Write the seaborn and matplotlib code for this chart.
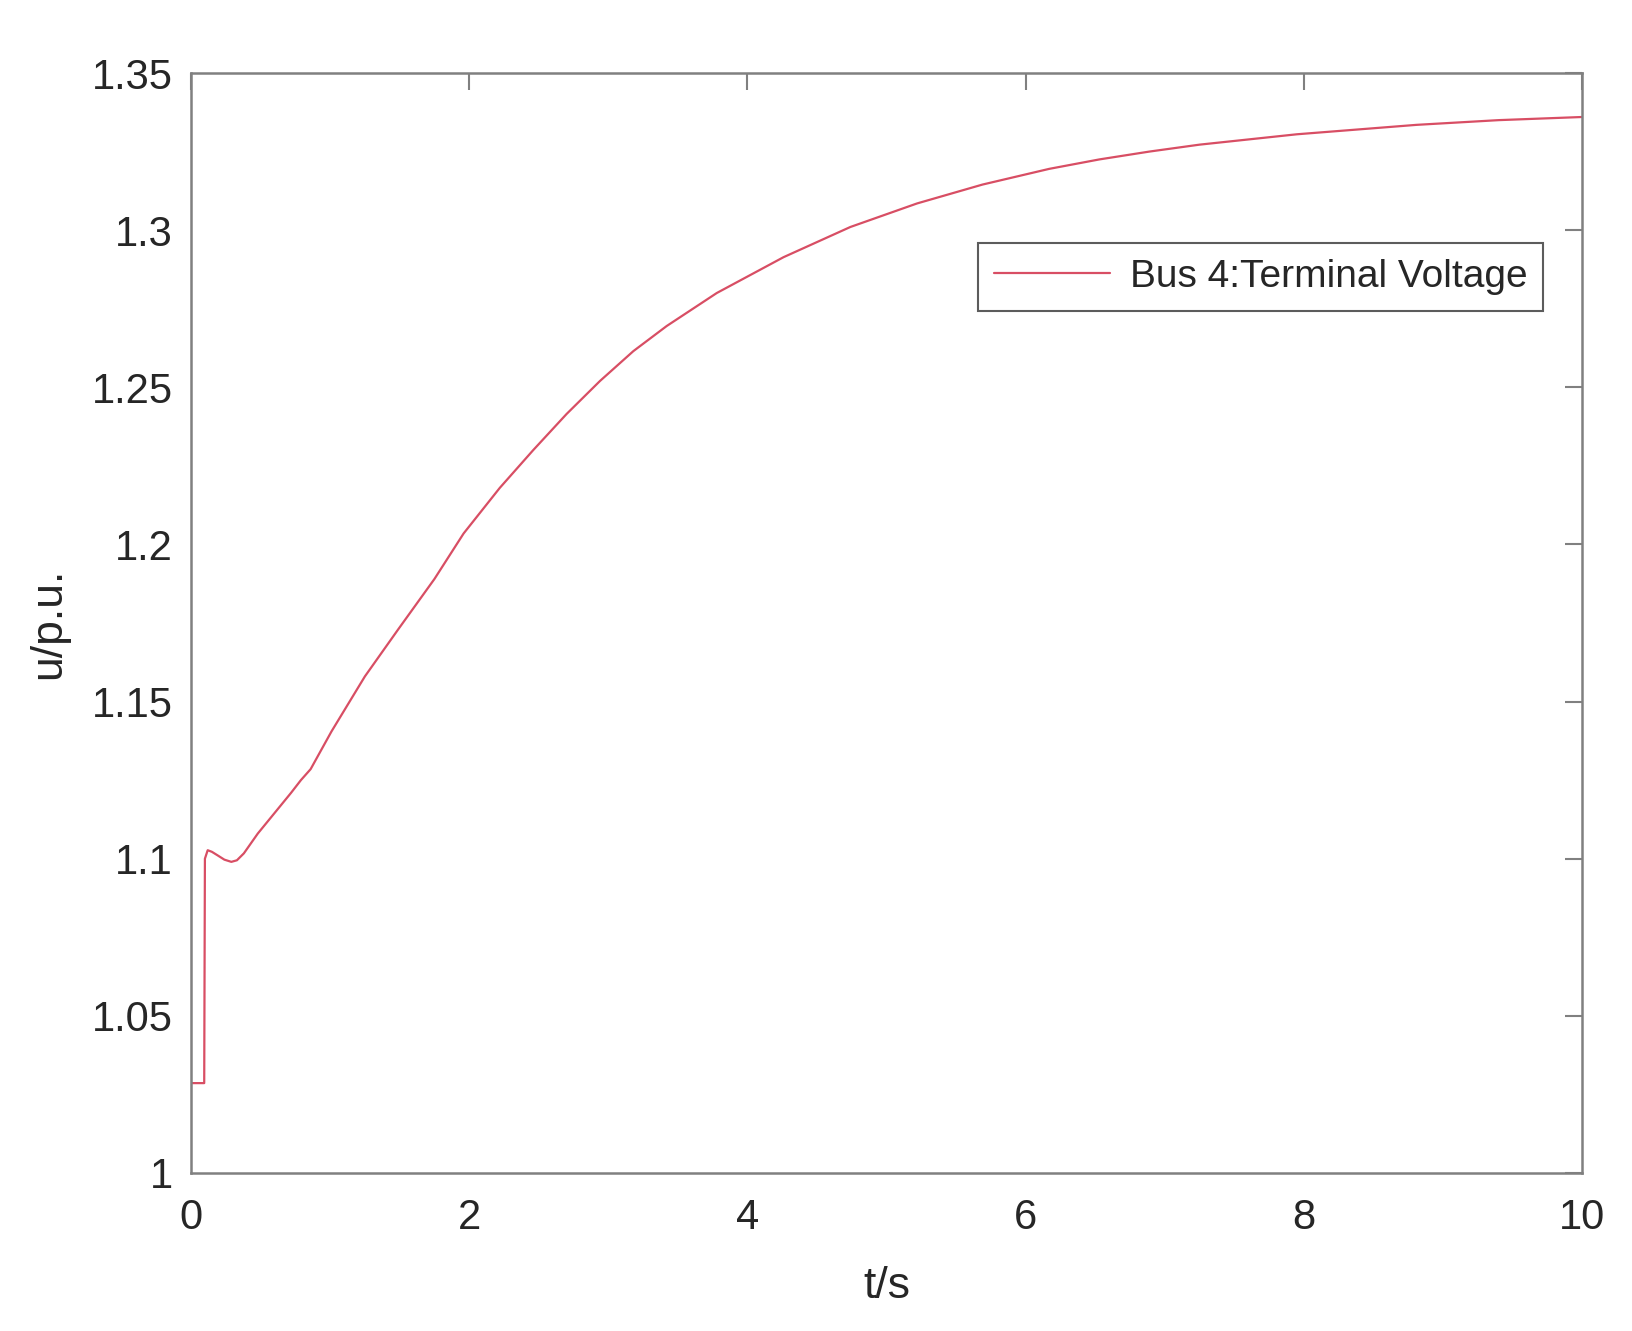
import matplotlib
matplotlib.use("Agg")
import matplotlib.pyplot as plt
import seaborn as sns
import pandas as pd
from matplotlib.ticker import FuncFormatter

# values
t = [0.0, 0.095, 0.10, 0.12, 0.15, 0.19, 0.24, 0.29, 0.33, 0.38, 0.48, 0.60,
     0.72, 0.79, 0.86, 1.01, 1.25, 1.49, 1.75, 1.96, 2.22, 2.46, 2.70, 2.94,
     3.18, 3.42, 3.78, 4.26, 4.74, 5.22, 5.69, 6.17, 6.53, 6.89, 7.25, 7.95,
     8.81, 9.40, 10.0]
u = [1.0286, 1.0286, 1.100, 1.1027, 1.1022, 1.1011, 1.0997, 1.0990, 1.0995,
     1.1017, 1.108, 1.1145, 1.121, 1.125, 1.1285, 1.1405, 1.158, 1.173,
     1.189, 1.2035, 1.218, 1.230, 1.2415, 1.252, 1.2615, 1.2695, 1.280,
     1.2914, 1.301, 1.3085, 1.3145, 1.3195, 1.3225, 1.325, 1.3272, 1.3305,
     1.3335, 1.335, 1.336]
x_ticks = [0, 2, 4, 6, 8, 10]
y_ticks = [1.0, 1.05, 1.1, 1.15, 1.2, 1.25, 1.3, 1.35]
series_name = "Bus 4:Terminal Voltage"

df = pd.DataFrame({"t": t, "u": u, "series": series_name})

sns.set_style("white")
plt.rcParams["font.family"] = ["Liberation Sans", "DejaVu Sans"]

fig = plt.figure(figsize=(16.33, 13.31), dpi=100)
ax = fig.add_axes([191 / 1633, 1 - 1173 / 1331, 1391 / 1633, 1100 / 1331])

sns.lineplot(data=df, x="t", y="u", hue="series", palette=["#d84e64"],
             sort=False, linewidth=1.6, ax=ax)

ax.set_xlim(0, 10)
ax.set_ylim(1.0, 1.35)
ax.set_xticks(x_ticks)
ax.set_yticks(y_ticks)
ax.yaxis.set_major_formatter(FuncFormatter(lambda v, p: f"{v:g}"))
ax.tick_params(direction="in", length=12, width=1.5, colors="#808080",
               labelcolor="#262626", labelsize=30, top=True, right=True)
ax.tick_params(axis="y", pad=13)
ax.tick_params(axis="x", pad=18)
for s in ax.spines.values():
    s.set_color("#808080")
    s.set_linewidth(1.8)

ax.set_xlabel("t/s", fontsize=32, color="#262626", labelpad=20)
ax.set_ylabel("u/p.u.", fontsize=32, color="#262626", labelpad=16)

leg = ax.legend(loc="upper right", bbox_to_anchor=(0.972, 0.845),
                borderaxespad=0, fontsize=28, frameon=True, fancybox=False,
                handlelength=3.0, borderpad=0.4, handletextpad=0.5)
leg.get_frame().set_edgecolor("#333333")
leg.get_frame().set_linewidth(1.5)
for text in leg.get_texts():
    text.set_color("#262626")

fig.savefig("out.png", dpi=100)
